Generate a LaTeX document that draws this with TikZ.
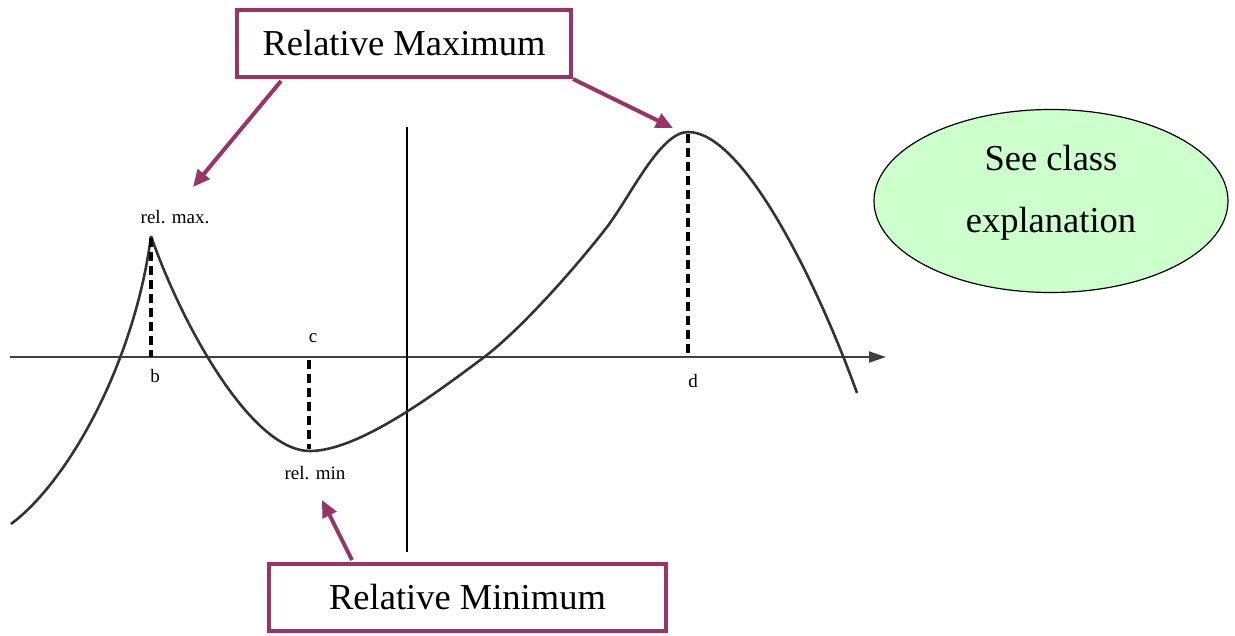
\documentclass[tikz,border=0pt]{standalone}
\usepackage{fontspec}
\setmainfont{Liberation Serif}
\usetikzlibrary{arrows.meta,shapes.geometric}
\definecolor{plum}{HTML}{9B3366}
\definecolor{mint}{HTML}{CCFFCC}
\tikzset{
  callout/.style={draw=plum, line width=4pt, fill=white, font=\fontsize{36.5}{40}\selectfont, minimum height=67pt, inner sep=0pt},
  pointer/.style={draw=plum, line width=4pt, -{Triangle[length=17pt,width=15pt]}},
  curve/.style={draw=black!80, line width=2.6pt, line join=round},
  dropline/.style={draw=black, line width=3.6pt, dash pattern=on 9pt off 5pt},
  small/.style={font=\fontsize{19}{21}\selectfont, inner sep=1pt},
}
\begin{document}
\begin{tikzpicture}[x=1pt,y=-1pt]
\useasboundingbox (0,0) rectangle (1235,635);
% axes
\coordinate (xl) at (10,357);
\coordinate (xr) at (886,357);
\draw[black!75, line width=2pt, -{Triangle[length=17pt,width=11pt]}] (xl) -- (xr);
\coordinate (yt) at (407,127);
\coordinate (yb) at (407,552);
\draw[black, line width=1.6pt] (yt) -- (yb);
% curve
\coordinate (p0) at (11,524);
\coordinate (cusp) at (151,236);
\coordinate (pmin) at (310,451);
\coordinate (p2) at (483,358);
\coordinate (p3) at (607,227);
\coordinate (pmax) at (688,132);
\coordinate (pend) at (857,393);
\draw[curve] (p0) .. controls (70,480) and (135,360) .. (cusp);
\draw[curve] (cusp) .. controls (180,320) and (250,451) .. (pmin)
  .. controls (360,451) and (440,390) .. (p2)
  .. controls (523,328) and (580,262) .. (p3)
  .. controls (630,197) and (660,132) .. (pmax)
  .. controls (745,132) and (820,290) .. (pend);
% dashed drop lines
\coordinate (bt) at (151,238); \coordinate (bb) at (151,357);
\coordinate (ct) at (309,360); \coordinate (cb) at (309,449);
\coordinate (dt) at (688,134); \coordinate (db) at (688,357);
\draw[dropline] (bt) -- (bb);
\draw[dropline] (ct) -- (cb);
\draw[dropline] (dt) -- (db);
% small labels
\node[small] (lmax) at (175,217) {rel. max.};
\node[small] (lb) at (155,376) {b};
\node[small] (lc) at (313,338) {c};
\node[small] (lmin) at (315,473) {rel. min};
\node[small] (ld) at (693,381) {d};
% callouts
\node[callout, minimum width=334pt] (maxbox) at (404,43.5) {Relative Maximum};
\node[callout, minimum width=397pt] (minbox) at (467.5,597.5) {Relative Minimum};
\coordinate (tipb) at (193,187);
\coordinate (tipd) at (673,128);
\coordinate (tipc) at (322,500);
\draw[pointer] (maxbox.south west) ++(46,2) -- (tipb);
\draw[pointer] (maxbox.south east) -- (tipd);
\draw[pointer] (minbox.north west) ++(85,-2) -- (tipc);
% ellipse
\node[ellipse, draw=black, line width=1.2pt, fill=mint, minimum width=354pt, minimum height=183pt, inner sep=0pt] (note) at (1051,201) {};
\node[align=center, font=\fontsize{36.5}{62}\selectfont, yshift=8pt] (notetext) at (note.center) {See class\\explanation};
\end{tikzpicture}
\end{document}
